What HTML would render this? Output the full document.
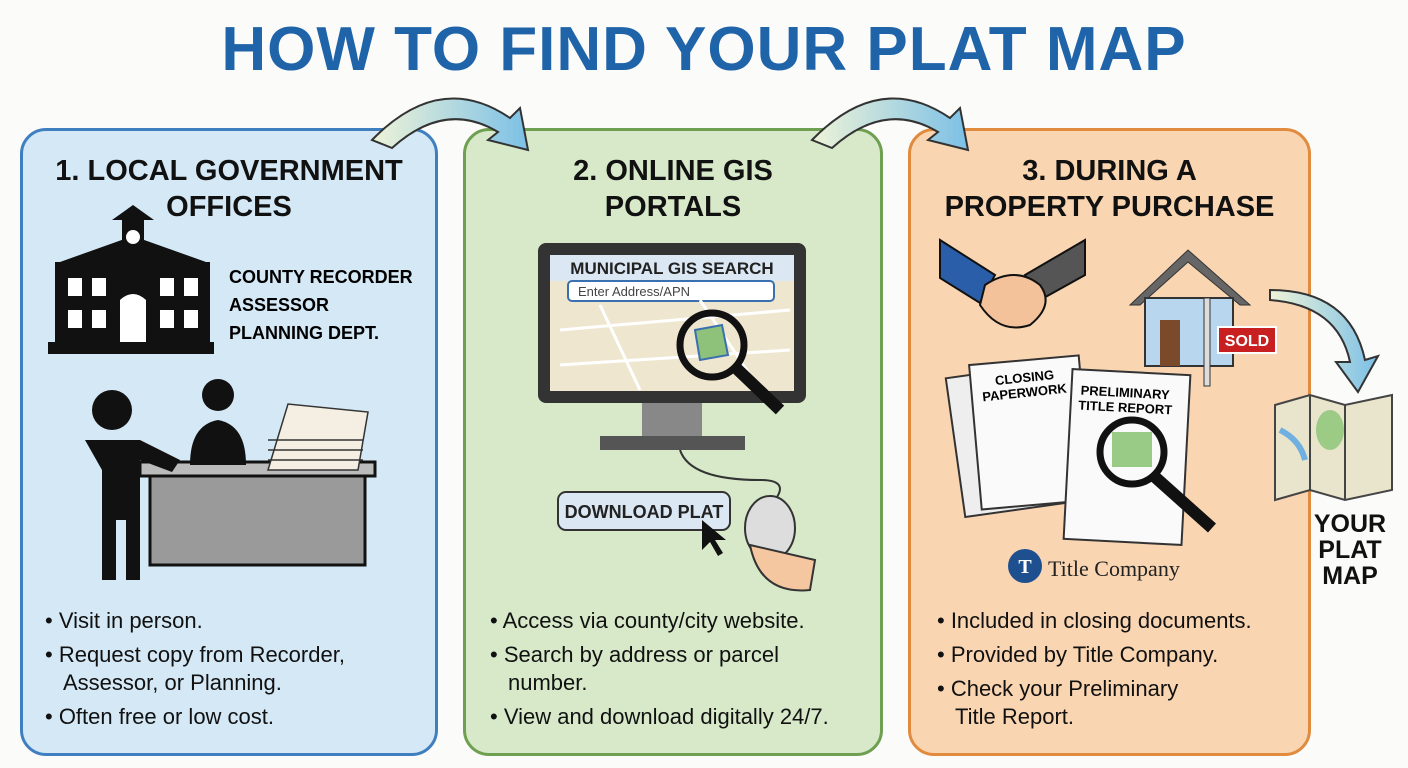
<!DOCTYPE html>
<html><head><meta charset="utf-8"><style>
body{margin:0;width:1408px;height:768px;background:#fbfbfa;font-family:"Liberation Sans",sans-serif;position:relative;overflow:hidden}
.t{position:absolute;left:0;width:1408px;text-align:center;top:14px;font-size:62px;font-weight:bold;color:#1f63a9;letter-spacing:1px}
.p{position:absolute;top:128px;height:622px;border-radius:26px;border:3px solid}
.h{position:absolute;width:100%;text-align:center;font-weight:bold;font-size:29px;line-height:36px;color:#111;top:22px}
.b{position:absolute;font-size:22px;line-height:28px;color:#111;font-family:"Liberation Sans Narrow","Liberation Sans",sans-serif}
.b div{padding-left:18px;text-indent:-18px;margin-bottom:6px}
</style></head><body>
<div class="t">HOW TO FIND YOUR PLAT MAP</div>
<div class="p" style="left:20px;width:412px;background:#d4e8f5;border-color:#3f7fc0">
<div class="h">1. LOCAL GOVERNMENT<br>OFFICES</div>
<div style="position:absolute;left:206px;top:132px;font-weight:bold;font-size:18px;line-height:28px">COUNTY RECORDER<br>ASSESSOR<br>PLANNING DEPT.</div>
<div class="b" style="left:22px;top:476px"><div>• Visit in person.</div><div>• Request copy from Recorder,<br>Assessor, or Planning.</div><div>• Often free or low cost.</div></div>
</div>
<div class="p" style="left:463px;width:414px;background:#d7e9c9;border-color:#6f9f50">
<div class="h">2. ONLINE GIS<br>PORTALS</div>
<div class="b" style="left:24px;top:476px"><div>• Access via county/city website.</div><div>• Search by address or parcel<br>number.</div><div>• View and download digitally 24/7.</div></div>
</div>
<div class="p" style="left:908px;width:397px;background:#f9d5b2;border-color:#e08b3e">
<div class="h">3. DURING A<br>PROPERTY PURCHASE</div>
<div class="b" style="left:26px;top:476px"><div>• Included in closing documents.</div><div>• Provided by Title Company.</div><div>• Check your Preliminary<br>Title Report.</div></div>
</div>
<svg width="1408" height="768" style="position:absolute;left:0;top:0">
<defs><linearGradient id="g" x1="0" x2="1"><stop offset="0" stop-color="#eef3d8"/><stop offset="1" stop-color="#7cc0e6"/></linearGradient></defs>
<path d="M372 140 Q440 70 510 118 L520 108 L528 150 L488 140 L498 132 Q445 100 392 148 Z" fill="url(#g)" stroke="#333" stroke-width="2"/>
<path d="M812 140 Q880 70 950 118 L960 108 L968 150 L928 140 L938 132 Q885 100 832 148 Z" fill="url(#g)" stroke="#333" stroke-width="2"/>
<path d="M1270 290 Q1350 290 1365 360 L1378 356 L1358 392 L1336 362 L1350 362 Q1338 305 1270 300 Z" fill="url(#g)" stroke="#333" stroke-width="2"/>
<!-- building -->
<g fill="#111"><rect x="122" y="218" width="22" height="40"/><polygon points="112,220 133,205 154,220"/><polygon points="60,262 133,236 206,262"/><rect x="55" y="262" width="155" height="80"/><rect x="48" y="342" width="166" height="12"/></g>
<circle cx="133" cy="237" r="7" fill="#fff"/>
<g fill="#fff"><rect x="68" y="278" width="14" height="18"/><rect x="92" y="278" width="14" height="18"/><rect x="160" y="278" width="14" height="18"/><rect x="184" y="278" width="14" height="18"/><rect x="68" y="310" width="14" height="18"/><rect x="92" y="310" width="14" height="18"/><rect x="160" y="310" width="14" height="18"/><rect x="184" y="310" width="14" height="18"/><path d="M120 342 V300 Q133 288 146 300 V342Z"/></g>
<!-- people & desk -->
<rect x="150" y="470" width="215" height="95" fill="#9a9a9a" stroke="#111" stroke-width="3"/>
<rect x="140" y="462" width="235" height="14" fill="#bbb" stroke="#111" stroke-width="3"/>
<circle cx="112" cy="410" r="20" fill="#111"/><path d="M85 440 h55 l40 20 l-8 12 l-32 -12 v120 h-14 v-60 h-10 v60 h-14 v-110 z" fill="#111"/>
<circle cx="218" cy="395" r="16" fill="#111"/><path d="M190 465 q0-40 28-45 q28 5 28 45z" fill="#111"/>
<g fill="#f4efe2" stroke="#333" stroke-width="1.5"><path d="M268 470 l90 0 l10 -58 l-80 -8z"/><path d="M268 440 l95 0 M268 450 l95 0 M268 460 l95 0"/></g>
<!-- monitor -->
<rect x="538" y="243" width="268" height="160" rx="8" fill="#333"/>
<rect x="550" y="255" width="244" height="136" fill="#eee6cf"/>
<rect x="550" y="255" width="244" height="26" fill="#dbe8f4"/>
<text x="672" y="274" text-anchor="middle" font-size="17" font-weight="bold" fill="#222">MUNICIPAL GIS SEARCH</text>
<rect x="568" y="281" width="206" height="20" rx="4" fill="#fff" stroke="#3a6fb0" stroke-width="2"/>
<text x="578" y="296" font-size="13" fill="#444">Enter Address/APN</text>
<g stroke="#fff" stroke-width="3" fill="none"><path d="M560 330 L790 310 M600 305 L640 390 M700 300 L760 390 M560 365 L790 350"/></g>
<polygon points="695,330 722,325 728,355 700,360" fill="#8ec27a" stroke="#3a6fb0" stroke-width="2"/>
<circle cx="712" cy="345" r="32" fill="none" stroke="#111" stroke-width="7"/><path d="M736 368 L780 410" stroke="#111" stroke-width="12"/>
<rect x="642" y="403" width="60" height="35" fill="#888"/><rect x="600" y="436" width="145" height="14" fill="#555"/>
<path d="M680 450 Q690 480 760 480 Q790 480 775 500" stroke="#333" stroke-width="2" fill="none"/>
<rect x="558" y="492" width="172" height="38" rx="8" fill="#dbe8f4" stroke="#333" stroke-width="2"/>
<text x="644" y="518" text-anchor="middle" font-size="18" font-weight="bold" fill="#222">DOWNLOAD PLAT</text>
<path d="M702 520 l0 30 l8 -8 l8 14 l5 -3 l-8 -13 l11 0z" fill="#111"/>
<ellipse cx="770" cy="528" rx="25" ry="32" fill="#ddd" stroke="#333" stroke-width="2"/>
<path d="M750 545 q10 50 60 45 l5 -30 z" fill="#f5c7a0" stroke="#333" stroke-width="2"/>
<!-- handshake -->
<path d="M940 240 l55 35 l-15 28 l-40 -25z" fill="#2b5ea8" stroke="#111" stroke-width="2"/>
<path d="M1085 240 l-60 35 l15 25 l45 -25z" fill="#555" stroke="#111" stroke-width="2"/>
<path d="M985 285 q30 -20 55 0 q15 20 -10 40 q-30 10 -50 -20z" fill="#f3c29a" stroke="#111" stroke-width="2"/>
<!-- house -->
<polygon points="1130,305 1188,250 1250,305 1240,305 1188,262 1140,305" fill="#666" stroke="#333"/>
<rect x="1145" y="298" width="88" height="68" fill="#b8d6ee" stroke="#333" stroke-width="2"/>
<rect x="1160" y="320" width="20" height="46" fill="#7a4a2a"/>
<rect x="1204" y="298" width="6" height="88" fill="#ddd" stroke="#333"/>
<rect x="1218" y="327" width="58" height="26" fill="#c82020" stroke="#fff" stroke-width="2"/>
<text x="1247" y="346" text-anchor="middle" font-size="16" font-weight="bold" fill="#fff">SOLD</text>
<!-- docs -->
<g stroke="#333" stroke-width="2"><rect x="955" y="370" width="112" height="140" fill="#eee" transform="rotate(-8 1010 440)"/><rect x="975" y="360" width="110" height="145" fill="#fafafa" transform="rotate(-5 1030 430)"/>
<rect x="1068" y="372" width="118" height="170" fill="#fafafa" transform="rotate(3 1127 457)"/></g>
<text x="1025" y="382" text-anchor="middle" font-size="13" font-weight="bold" transform="rotate(-6 1025 382)">CLOSING</text>
<text x="1025" y="397" text-anchor="middle" font-size="13" font-weight="bold" transform="rotate(-6 1025 397)">PAPERWORK</text>
<text x="1125" y="397" text-anchor="middle" font-size="13" font-weight="bold" transform="rotate(3 1125 397)">PRELIMINARY</text>
<text x="1125" y="412" text-anchor="middle" font-size="13" font-weight="bold" transform="rotate(3 1125 412)">TITLE REPORT</text>
<rect x="1112" y="432" width="40" height="35" fill="#9acb86"/>
<circle cx="1132" cy="452" r="32" fill="none" stroke="#111" stroke-width="7"/><path d="M1155 477 L1212 528" stroke="#111" stroke-width="12"/>
<circle cx="1025" cy="566" r="17" fill="#1e4f8f"/><text x="1025" y="573" text-anchor="middle" font-size="20" font-weight="bold" fill="#fff" font-family="Liberation Serif">T</text>
<text x="1048" y="576" font-size="22" font-family="Liberation Serif" fill="#222">Title Company</text>
<!-- map -->
<polygon points="1275,405 1310,395 1345,405 1392,395 1392,490 1345,500 1310,490 1275,500" fill="#e9e4cc" stroke="#444" stroke-width="2"/>
<path d="M1310 395 V490 M1345 405 V500" stroke="#444" stroke-width="2"/>
<ellipse cx="1330" cy="430" rx="14" ry="20" fill="#9ccb86"/>
<path d="M1280 430 q20 10 25 30" stroke="#6fb0e0" stroke-width="6" fill="none"/>
<text x="1350" y="532" text-anchor="middle" font-size="25" font-weight="bold" fill="#111">YOUR</text>
<text x="1350" y="558" text-anchor="middle" font-size="25" font-weight="bold" fill="#111">PLAT</text>
<text x="1350" y="584" text-anchor="middle" font-size="25" font-weight="bold" fill="#111">MAP</text>
</svg>
</body></html>
